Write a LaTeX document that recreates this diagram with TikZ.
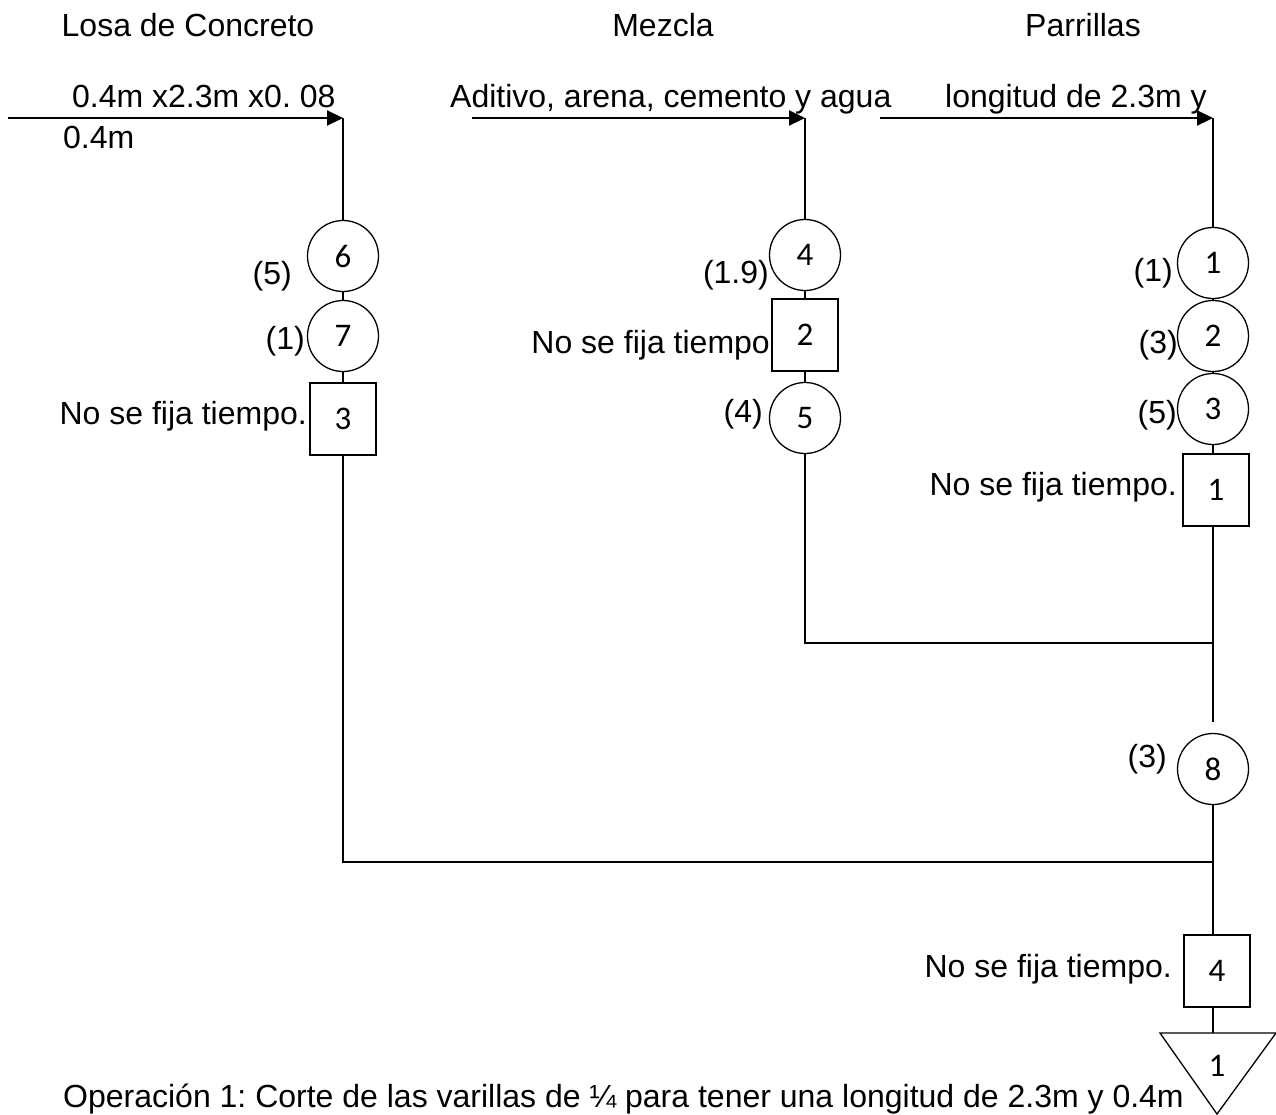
\documentclass[tikz,border=0pt]{standalone}
\usepackage{fontspec}
\setmainfont{Liberation Sans}
\newfontfamily\numfont{Carlito}
\usetikzlibrary{arrows.meta}
\frenchspacing
\begin{document}
\begin{tikzpicture}[x=1pt,y=-1pt,
  lbl/.style={inner sep=0pt, font=\frenchspacing\fontsize{32}{38}\selectfont, text height=22pt, text depth=0pt},
  op/.style={circle, draw, line width=1.3pt, minimum size=71pt, inner sep=0pt, font=\numfont\fontsize{33}{38}\selectfont},
  insp/.style={rectangle, draw, line width=1.3pt, minimum width=66pt, minimum height=72pt, inner sep=0pt, font=\numfont\fontsize{33}{38}\selectfont},
  flow/.style={line width=1.3pt},
  feed/.style={line width=2.2pt, -{Triangle[length=16pt,width=15pt]}}]
\fill[white] (0,0) rectangle (1276,1114);
\useasboundingbox (0,0) rectangle (1276,1114);

% headings
\node[lbl] (hL) at (188,25) {Losa de Concreto};
\node[lbl] (hM) at (663,25) {Mezcla};
\node[lbl] (hR) at (1083,25) {Parrillas};

% feed texts
\node[lbl, anchor=west] (tL1) at (72,96) {0.4m x2.3m x0. 08};
\node[lbl, anchor=west] (tL2) at (63,137) {0.4m};
\node[lbl, anchor=west] (tM) at (450,96) {Aditivo, arena, cemento y agua};
\node[lbl, anchor=west] (tR) at (945,96) {longitud de 2.3m y};

% feed arrows
\coordinate (sL) at (8,118);   \coordinate (eL) at (343,118);
\coordinate (sM) at (472,118); \coordinate (eM) at (805,118);
\coordinate (sR) at (880,118); \coordinate (eR) at (1213,118);
\draw[feed] (sL) -- (eL);
\draw[feed] (sM) -- (eM);
\draw[feed] (sR) -- (eR);

% left column
\node[op] (c6) at (343,256) {6};
\node[op] (c7) at (343,336) {7};
\node[insp] (b3) at (343,419) {3};
\node[lbl, anchor=east] (l5) at (292,273) {(5)};
\node[lbl, anchor=east] (l1) at (305,338) {(1)};
\node[lbl, anchor=east] (nL) at (307,413) {No se fija tiempo.};

% middle column
\node[op] (c4) at (805,255) {4};
\node[insp] (b2) at (805,335) {2};
\node[op] (c5) at (805,418) {5};
\node[lbl, anchor=east] (l19) at (769,272) {(1.9)};
\node[lbl, anchor=east] (nM) at (770,342) {No se fija tiempo};
\node[lbl, anchor=east] (l4) at (763,411) {(4)};

% right column
\node[op] (r1) at (1213,263) {1};
\node[op] (r2) at (1213,336) {2};
\node[op] (r3) at (1213,409) {3};
\node[insp] (b1) at (1216,490) {1};
\node[lbl, anchor=east] (lr1) at (1173,270) {(1)};
\node[lbl, anchor=east] (lr3) at (1178,342) {(3)};
\node[lbl, anchor=east] (lr5) at (1177,412) {(5)};
\node[lbl, anchor=east] (nR) at (1177,484) {No se fija tiempo.};

% joint part
\coordinate (j1) at (1213,643);
\coordinate (e1) at (1213,722);
\node[op] (c8) at (1213,769) {8};
\node[lbl, anchor=east] (l3) at (1167,756) {(3)};
\coordinate (j2) at (1213,862);
\node[insp] (b4) at (1217,971) {4};
\node[lbl, anchor=east] (nB) at (1172,966) {No se fija tiempo.};
\coordinate (tri) at (1213,1033);
\draw[line width=1.3pt] (1160,1033) -- (1276,1033) -- (1217,1114) -- cycle;
\node[font=\numfont\fontsize{33}{38}\selectfont, inner sep=0pt] (s1) at (1217,1066) {1};

% connectors
\draw[flow] (eL) -- (c6);
\draw[flow] (c6) -- (c7);
\draw[flow] (c7) -- (b3);
\draw[flow] (eM) -- (c4);
\draw[flow] (c4) -- (b2);
\draw[flow] (b2) -- (c5);
\draw[flow] (eR) -- (r1);
\draw[flow] (r1) -- (r2);
\draw[flow] (r2) -- (r3);
\draw[flow] (r3) -- (r3 |- b1.north);
\draw[flow] (r3 |- b1.south) -- (e1);
\draw[flow] (c5) |- (j1);
\draw[flow] (b3) |- (j2);
\draw[flow] (c8) -- (j2) -- (j2 |- b4.north);
\draw[flow] (j2 |- b4.south) -- (tri);

% bottom text
\node[lbl, anchor=west] (op1) at (63,1096) {Operación 1: Corte de las varillas de ¼ para tener una longitud de 2.3m y 0.4m};
\end{tikzpicture}
\end{document}
